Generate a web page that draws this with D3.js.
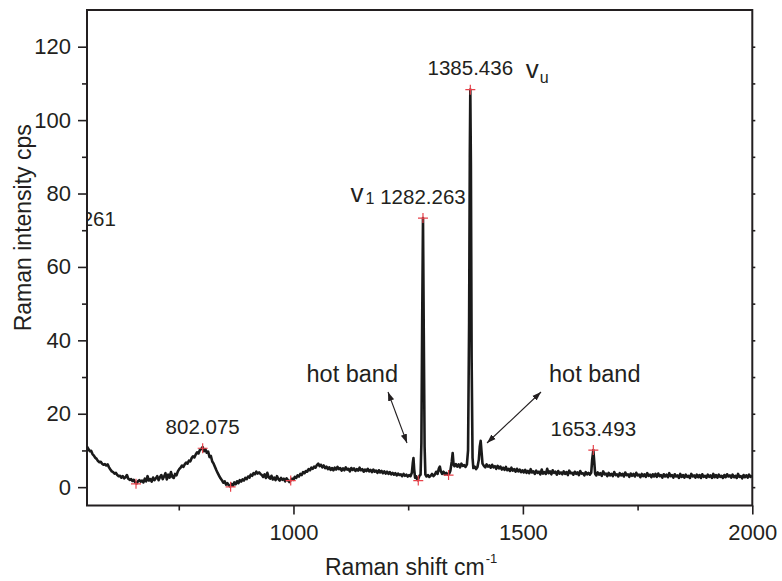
<!DOCTYPE html>
<html><head><meta charset="utf-8">
<script src="https://cdn.jsdelivr.net/npm/d3@7"></script>
<style>
body{margin:0;background:#fff}
text{font-family:"Liberation Sans",Arial,Helvetica,sans-serif;fill:#231f20}
</style>
</head><body>
<svg id="c" width="782" height="581"></svg>
<script>
// Raman spectrum: [shift (cm^-1), intensity (cps)]
const spectrum = [
[550,11.0],[553,10.4],[556,9.8],[559,9.9],[562,9.0],[565,8.6],[568,8.0],[571,7.7],[574,7.1],[577,6.8],
[580,6.9],[583,6.4],[586,6.1],[589,6.3],[592,5.9],[595,6.2],[598,5.4],[601,4.8],[604,4.3],[607,4.1],
[610,3.7],[613,3.9],[616,3.3],[619,3.0],[622,3.1],[625,2.6],[628,3.0],[631,2.4],[634,2.7],[637,3.3],
[640,2.3],[643,2.0],[646,2.2],[649,1.7],[652,2.0],[655,1.3],[658,1.0],[661,1.6],[664,1.9],[667,1.5],
[670,1.8],[673,1.3],[676,2.3],[679,1.6],[682,3.0],[685,1.8],[688,2.2],[691,1.5],[694,2.6],[697,1.9],
[700,2.4],[703,3.0],[706,1.9],[709,2.7],[712,3.3],[715,2.2],[718,2.9],[721,3.8],[724,2.1],[727,3.4],
[730,2.6],[733,4.1],[736,2.8],[739,2.5],[742,3.6],[745,3.2],[748,4.3],[751,4.9],[754,5.3],[757,5.9],
[760,5.5],[763,6.2],[766,6.7],[769,6.4],[772,7.2],[775,7.0],[778,7.9],[781,8.4],[784,8.1],[787,8.9],
[790,9.5],[793,9.2],[796,10.1],[799,10.4],[802,10.9],[805,9.8],[808,10.3],[811,9.4],[814,9.7],[817,8.2],
[820,8.5],[823,7.0],[826,6.4],[829,5.5],[832,4.6],[835,3.8],[838,3.1],[841,2.4],[844,1.9],[847,1.2],
[850,1.6],[853,0.7],[856,1.1],[859,0.5],[862,0.2],[865,0.9],[868,0.4],[871,1.3],[874,0.8],[877,1.6],
[880,1.1],[883,1.9],[886,1.5],[889,2.1],[892,1.8],[895,2.5],[898,2.2],[901,2.9],[904,2.6],[907,3.4],
[910,3.1],[913,3.8],[916,3.5],[919,4.2],[922,3.7],[925,4.0],[928,3.6],[931,3.3],[934,2.8],[937,3.5],
[940,2.5],[943,3.9],[946,2.7],[949,2.3],[952,3.1],[955,2.1],[958,2.6],[961,1.9],[964,3.0],[967,2.2],
[970,1.8],[973,2.5],[976,2.0],[979,2.3],[982,1.6],[985,2.4],[988,1.9],[991,1.4],[994,1.9],[997,2.3],
[1000,2.0],[1003,2.8],[1006,2.5],[1009,3.2],[1012,2.9],[1015,3.6],[1018,3.3],[1021,4.1],[1024,3.8],[1027,4.4],
[1030,4.2],[1033,4.9],[1036,4.6],[1039,5.3],[1042,5.0],[1045,5.6],[1048,5.3],[1051,6.0],[1054,6.4],[1057,5.7],
[1060,6.1],[1063,5.4],[1066,5.9],[1069,5.2],[1072,5.6],[1075,4.9],[1078,5.4],[1081,4.7],[1084,5.2],[1087,4.6],
[1090,5.3],[1093,4.8],[1096,5.5],[1099,4.9],[1102,5.2],[1105,4.5],[1108,5.1],[1111,4.6],[1114,5.4],[1117,4.8],
[1120,5.0],[1123,4.3],[1126,5.2],[1129,4.7],[1132,5.1],[1135,4.4],[1138,4.9],[1141,4.5],[1144,5.3],[1147,4.6],
[1150,4.9],[1153,4.2],[1156,4.8],[1159,4.4],[1162,5.0],[1165,4.3],[1168,4.7],[1171,4.1],[1174,4.8],[1177,4.2],
[1180,4.5],[1183,3.9],[1186,4.6],[1189,4.0],[1192,4.4],[1195,3.8],[1198,4.3],[1201,3.7],[1204,4.2],[1207,3.6],
[1210,4.1],[1213,3.5],[1216,3.9],[1219,3.4],[1222,3.8],[1225,3.2],[1228,3.7],[1231,3.3],[1234,3.5],[1237,3.0],
[1240,3.6],[1243,3.1],[1246,3.4],[1249,2.9],[1252,3.3],[1255,3.0],[1258,3.9],[1260,6.5],[1261.5,7.9],[1263,5.0],
[1265,2.6],[1267,3.0],[1269,2.3],[1271,1.9],[1273,2.6],[1275,3.2],[1277,3.4],[1278.8,12],[1280.5,45],[1282.3,73.3],
[1284,42],[1285.8,11],[1287.5,3.4],[1290,2.9],[1293,3.3],[1296,2.8],[1299,3.1],[1302,3.6],[1305,3.0],[1308,3.4],
[1311,4.2],[1314,3.6],[1317,5.1],[1319,5.6],[1321,4.4],[1324,3.6],[1327,4.2],[1330,3.5],[1333,3.9],[1336,3.4],
[1339,3.6],[1342,4.5],[1345,7.0],[1347,9.3],[1349,6.1],[1351,5.7],[1354,6.3],[1357,5.6],[1360,6.2],[1363,5.4],
[1366,6.4],[1369,5.8],[1372,6.0],[1375,5.5],[1378,6.2],[1380.5,10],[1382.8,45],[1384.3,90],[1385.4,108.3],[1386.7,88],
[1388.3,35],[1390.3,8],[1392,5.2],[1395,5.6],[1398,4.9],[1401,5.5],[1404,7.5],[1406,11.0],[1408,12.6],[1410,9.5],
[1412,6.4],[1415,5.8],[1418,5.4],[1421,6.2],[1424,5.6],[1427,5.9],[1430,5.3],[1433,6.1],[1436,5.4],[1439,5.7],
[1442,5.0],[1445,5.8],[1448,5.1],[1451,5.6],[1454,4.8],[1457,5.3],[1460,4.7],[1463,5.5],[1466,4.6],[1469,5.0],
[1472,4.4],[1475,5.3],[1478,4.5],[1481,4.9],[1484,4.2],[1487,5.0],[1490,4.3],[1493,4.8],[1496,4.1],[1499,4.6],
[1502,4.0],[1505,4.7],[1508,3.9],[1511,4.4],[1514,3.8],[1517,4.9],[1520,4.0],[1523,4.3],[1526,3.6],[1529,4.5],
[1532,3.9],[1535,4.2],[1538,3.5],[1541,4.8],[1544,3.7],[1547,4.1],[1550,3.6],[1553,5.0],[1556,3.8],[1559,4.3],
[1562,3.5],[1565,4.6],[1568,3.9],[1571,4.2],[1574,3.4],[1577,4.4],[1580,3.7],[1583,4.0],[1586,3.5],[1589,4.3],
[1592,3.6],[1595,4.1],[1598,3.3],[1601,4.5],[1604,3.8],[1607,3.9],[1610,3.4],[1613,4.2],[1616,3.6],[1619,4.0],
[1622,3.3],[1625,4.4],[1628,3.7],[1631,3.8],[1634,3.2],[1637,4.1],[1640,3.5],[1643,3.9],[1646,3.4],[1649,4.0],
[1651,7.5],[1653.5,10.1],[1655.5,7.0],[1657.5,3.6],[1660,3.2],[1663,4.0],[1666,3.4],[1669,3.8],[1672,3.1],[1675,4.3],
[1678,3.5],[1681,3.7],[1684,3.0],[1687,3.9],[1690,3.2],[1693,3.6],[1696,3.0],[1699,4.1],[1702,3.3],[1705,3.5],
[1708,2.9],[1711,3.8],[1714,3.2],[1717,3.6],[1720,2.9],[1723,4.0],[1726,3.3],[1729,3.5],[1732,2.8],[1735,3.7],
[1738,3.1],[1741,3.6],[1744,2.9],[1747,3.9],[1750,3.2],[1753,3.4],[1756,2.7],[1759,3.6],[1762,3.0],[1765,3.5],
[1768,2.8],[1771,3.8],[1774,3.1],[1777,3.4],[1780,2.7],[1783,3.5],[1786,2.9],[1789,3.6],[1792,2.8],[1795,3.7],
[1798,3.0],[1801,3.3],[1804,2.6],[1807,3.5],[1810,2.9],[1813,3.4],[1816,2.7],[1819,3.8],[1822,3.0],[1825,3.3],
[1828,2.6],[1831,3.5],[1834,2.9],[1837,3.2],[1840,2.5],[1843,3.6],[1846,2.8],[1849,3.3],[1852,2.6],[1855,3.4],
[1858,2.8],[1861,3.1],[1864,2.5],[1867,3.6],[1870,2.9],[1873,3.2],[1876,2.6],[1879,3.4],[1882,2.7],[1885,3.3],
[1888,2.5],[1891,3.5],[1894,2.8],[1897,3.1],[1900,2.6],[1903,3.4],[1906,2.8],[1909,3.2],[1912,2.5],[1915,3.6],
[1918,2.7],[1921,3.3],[1924,2.6],[1927,3.4],[1930,2.8],[1933,3.1],[1936,2.5],[1939,3.3],[1942,2.7],[1945,3.5],
[1948,2.9],[1951,3.2],[1954,2.6],[1957,3.4],[1960,2.7],[1963,3.1],[1966,2.5],[1969,3.6],[1972,2.8],[1975,3.0],
[1978,2.4],[1981,3.3],[1984,2.7],[1987,3.2],[1990,2.6],[1993,3.4],[1996,2.8],[2000,3.1]
];

// labelled peaks
const peakX = [532.261, 802.075, 1282.263, 1385.436, 1653.493];
const peakY = [67.1, 10.6, 73.3, 108.3, 10.1];
const peakLabels = ["532.261", "802.075", "1282.263", "1385.436", "1653.493"];

// red "+" markers (picked points)
const markerX = [656.8, 802.075, 863, 994, 1272, 1282.263, 1338, 1385.436, 1653.493];
const markerY = [0.9, 10.6, 0.1, 1.8, 1.8, 73.3, 3.3, 108.3, 10.1];

// axis ticks
const xTicks = [1000, 1500, 2000];
const xMinorTicks = [750, 1250, 1750];
const yTicks = [0, 20, 40, 60, 80, 100, 120];
const yMinorTicks = [10, 30, 50, 70, 90, 110];
const yAllTicks = [0, 10, 20, 30, 40, 50, 60, 70, 80, 90, 100, 110, 120];

const xDomain = [550, 2000];
const yDomain = [-5, 130];

const L = 87, R = 752.3, T = 10, B = 505.5;
const svg = d3.select("#c");
const x = d3.scaleLinear().domain(xDomain).range([L, R]);
const y = d3.scaleLinear().domain(yDomain).range([B, T]);

svg.append("defs").append("clipPath").attr("id", "clip")
  .append("rect").attr("x", L).attr("y", T).attr("width", R - L).attr("height", B - T);

const defs = svg.select("defs");
defs.append("marker").attr("id", "ah").attr("viewBox", "0 0 10 10")
  .attr("refX", 10).attr("refY", 5).attr("markerWidth", 9).attr("markerHeight", 9)
  .attr("markerUnits", "userSpaceOnUse").attr("orient", "auto-start-reverse")
  .append("path").attr("d", "M0,1.5 L10,5 L0,8.5 Z").attr("fill", "#231f20");

const axisColor = "#231f20";

// Left axis
const gL = svg.append("g").attr("transform", `translate(${L},0)`);
gL.call(d3.axisLeft(y).tickValues(yTicks).tickSize(9).tickPadding(7).tickFormat(d3.format("d")));
gL.select(".domain").remove();
gL.selectAll(".tick line").attr("stroke", axisColor).attr("stroke-width", 1.6);
gL.selectAll(".tick text").style("font-size", "22px").style("font-family", '"Liberation Sans",Arial,sans-serif').attr("fill", axisColor);
const gLm = svg.append("g").attr("transform", `translate(${L},0)`);
gLm.call(d3.axisLeft(y).tickValues(yMinorTicks).tickSize(5).tickFormat(""));
gLm.select(".domain").remove();
gLm.selectAll(".tick line").attr("stroke", axisColor).attr("stroke-width", 1.6);

// Bottom axis
const gB = svg.append("g").attr("transform", `translate(0,${B})`);
gB.call(d3.axisBottom(x).tickValues(xTicks).tickSize(9).tickPadding(10).tickFormat(d3.format("d")));
gB.select(".domain").remove();
gB.selectAll(".tick line").attr("stroke", axisColor).attr("stroke-width", 1.6);
gB.selectAll(".tick text").style("font-size", "22px").style("font-family", '"Liberation Sans",Arial,sans-serif').attr("fill", axisColor);
const gBm = svg.append("g").attr("transform", `translate(0,${B})`);
gBm.call(d3.axisBottom(x).tickValues(xMinorTicks).tickSize(5).tickFormat(""));
gBm.select(".domain").remove();
gBm.selectAll(".tick line").attr("stroke", axisColor).attr("stroke-width", 1.6);

// Right axis small ticks
const gR = svg.append("g").attr("transform", `translate(${R},0)`);
gR.call(d3.axisRight(y).tickValues(yAllTicks).tickSize(3).tickFormat(""));
gR.select(".domain").remove();
gR.selectAll(".tick line").attr("stroke", axisColor).attr("stroke-width", 1.6);

// Frame
svg.append("rect").attr("x", L).attr("y", T).attr("width", R - L).attr("height", B - T)
  .attr("fill", "none").attr("stroke", axisColor).attr("stroke-width", 2);

// Spectrum line
const plot = svg.append("g").attr("clip-path", "url(#clip)");
plot.append("path").datum(spectrum)
  .attr("fill", "none").attr("stroke", "#1a1a1a").attr("stroke-width", 2.6)
  .attr("stroke-linejoin", "round")
  .attr("d", d3.line().x(d => x(d[0])).y(d => y(d[1])));

// Markers
plot.selectAll(".mk").data(markerX).join("path").attr("class", "mk")
  .attr("transform", (d, i) => `translate(${x(d)},${y(markerY[i])})`)
  .attr("d", "M-5,0H5M0,-5V5").attr("stroke", "#e8424a").attr("stroke-width", 1.2).attr("fill", "none");

// Peak labels
plot.selectAll(".pl").data(peakX).join("text").attr("class", "pl")
  .attr("x", d => x(d)).attr("y", (d, i) => y(peakY[i]) - 14.5)
  .attr("text-anchor", "middle").style("font-size", "20.5px")
  .text((d, i) => peakLabels[i]);

// nu labels
const nu1 = svg.append("text").attr("x", x(1282.263) - 72.5).attr("y", y(73.3) - 16)
  .style("font-size", "26px");
nu1.append("tspan").text("v");
nu1.append("tspan").attr("dx", 2).attr("dy", 2).style("font-size", "16px").text("1");

const nuU = svg.append("text").attr("x", x(1385.436) + 55.5).attr("y", y(108.3) - 11.5)
  .style("font-size", "26px");
nuU.append("tspan").text("v");
nuU.append("tspan").attr("dx", 1).attr("dy", 5).style("font-size", "16px").text("u");

// hot band annotations
svg.append("text").attr("x", 306.5).attr("y", 381.5).style("font-size", "23.5px").text("hot band");
svg.append("text").attr("x", 549).attr("y", 381.5).style("font-size", "23.5px").text("hot band");

svg.append("line").attr("x1", 388).attr("y1", 392).attr("x2", 407).attr("y2", 443)
  .attr("stroke", "#231f20").attr("stroke-width", 1.1)
  .attr("marker-start", "url(#ah)").attr("marker-end", "url(#ah)");
svg.append("line").attr("x1", 541).attr("y1", 392).attr("x2", 487).attr("y2", 443)
  .attr("stroke", "#231f20").attr("stroke-width", 1.1)
  .attr("marker-start", "url(#ah)").attr("marker-end", "url(#ah)");

// Axis titles
svg.append("text").attr("transform", `translate(31,${(T + B) / 2 - 30}) rotate(-90)`)
  .attr("text-anchor", "middle").style("font-size", "23px").text("Raman intensity cps");

const xt = svg.append("text").attr("x", 325).attr("y", 575).style("font-size", "23px");
xt.append("tspan").text("Raman shift cm");
xt.append("tspan").attr("dx", 1).attr("dy", -12).style("font-size", "13px").text("-1");
</script>
</body></html>
